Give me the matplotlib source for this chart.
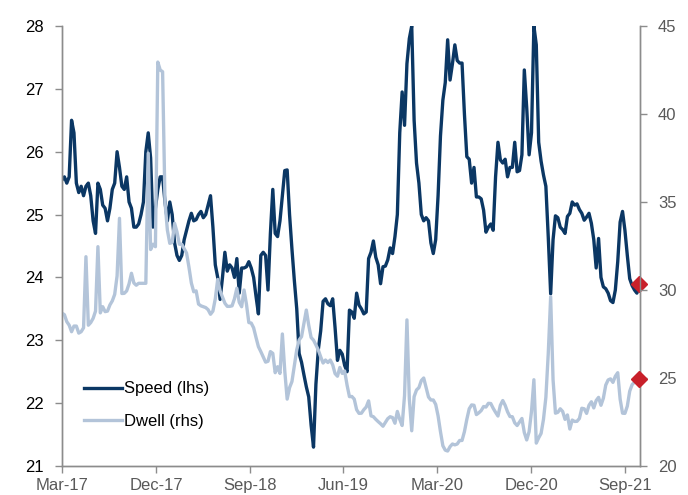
import matplotlib
matplotlib.use("Agg")
import matplotlib.pyplot as plt
import matplotlib.dates as mdates
import pandas as pd

plt.rcParams['font.family'] = ['Liberation Sans', 'DejaVu Sans']

# weekly readings, first week = Mar-17
start = "2017-03-01"

speed = [
    25.55, 25.6, 25.5, 25.6, 26.5, 26.3, 25.5, 25.35, 25.45, 25.3,
    25.45, 25.5, 25.3, 24.9, 24.7, 25.5, 25.4, 25.15, 25.1, 24.9,
    25.1, 25.4, 25.5, 26.0, 25.75, 25.45, 25.4, 25.6, 25.2, 25.1,
    24.8, 24.8, 24.85, 25.0, 25.2, 26.0, 26.3, 25.9, 24.8, 25.1,
    25.4, 25.6, 25.6, 25.2, 24.9, 25.2, 25.0, 24.55, 24.35, 24.27,
    24.35, 24.6, 24.75, 24.9, 25.02, 24.9, 24.92, 25.0, 25.05, 24.95,
    25.0, 25.15, 25.3, 24.8, 24.2, 24.0, 23.65, 24.0, 24.4, 24.1,
    24.2, 24.15, 24.0, 24.3, 23.75, 24.15, 24.15, 24.17, 24.25, 24.15,
    24.0, 23.7, 23.42, 24.35, 24.4, 24.35, 23.8, 24.7, 25.4, 24.7,
    24.65, 24.9, 25.3, 25.7, 25.71, 25.0, 24.45, 23.95, 23.5, 22.79,
    22.65, 22.45, 22.26, 22.1, 21.65, 21.3, 22.3, 22.85, 23.15, 23.62,
    23.66, 23.58, 23.55, 23.66, 23.2, 22.68, 22.84, 22.78, 22.6, 22.5,
    23.48, 23.45, 23.35, 23.75, 23.56, 23.5, 23.42, 23.45, 24.3, 24.4,
    24.58, 24.32, 24.2, 23.9, 24.17, 24.18, 24.28, 24.47, 24.38, 24.65,
    25.0, 26.3, 26.95, 26.42, 27.4, 27.8, 28.0, 26.5, 25.82, 25.5,
    25.0, 24.9, 24.95, 24.9, 24.55, 24.38, 24.6, 25.3, 26.25, 26.82,
    27.1, 27.78, 27.14, 27.4, 27.7, 27.45, 27.41, 27.41, 26.6, 25.92,
    25.88, 25.5, 25.75, 25.28, 25.28, 25.25, 25.07, 24.72, 24.8, 24.85,
    24.75, 25.6, 26.15, 25.87, 25.82, 25.88, 25.6, 25.75, 25.75, 26.15,
    25.68, 25.7, 25.95, 27.3, 26.7, 25.95, 26.3, 28.0, 27.7, 26.15,
    25.85, 25.63, 25.45, 24.64, 23.74, 24.6, 24.98, 24.95, 24.8, 24.76,
    24.7, 24.97, 25.02, 25.2, 25.15, 25.17, 25.08, 25.02, 24.91, 24.96,
    25.02, 24.86, 24.6, 24.15, 24.62, 24.0, 23.85, 23.82, 23.75, 23.63,
    23.6, 23.8, 24.25, 24.88, 25.05, 24.75, 24.35, 23.98, 23.87, 23.8,
    23.75, 23.89,
]

dwell = [
    28.68, 28.6, 28.2, 28.0, 27.63, 27.95, 27.95, 27.55, 27.63, 27.85,
    31.89, 28.0, 28.15, 28.39, 28.8, 32.46, 28.7, 29.05, 28.77, 28.8,
    29.15, 29.38, 29.75, 30.8, 34.07, 29.8, 29.81, 29.95, 30.35, 30.95,
    30.4, 30.27, 30.38, 30.38, 30.38, 30.38, 37.77, 32.3, 32.6, 32.46,
    42.95, 42.5, 42.4, 35.0, 33.4, 32.65, 32.7, 33.79, 33.3, 32.6,
    32.6, 32.35, 32.1, 31.3, 30.4, 29.9, 29.95, 29.2, 29.1, 29.05,
    29.0, 28.88, 28.62, 28.8, 29.5, 30.6, 29.95, 29.6, 29.25, 29.07,
    29.07, 29.1, 29.5, 30.1, 29.3, 29.05, 30.0, 29.2, 28.15, 28.12,
    27.85, 27.3, 26.78, 26.5, 26.2, 25.9, 25.95, 26.5, 26.4, 25.3,
    25.64, 25.26, 27.5, 25.4, 23.8, 24.45, 24.8, 25.7, 26.6, 27.16,
    27.35, 28.1, 28.86, 28.0, 27.3, 27.15, 26.88, 26.59, 26.2, 25.85,
    26.02, 25.88, 26.02, 25.75, 25.25, 25.1, 25.6, 25.26, 25.4, 24.6,
    23.94, 23.95, 23.8, 23.2, 22.99, 23.0, 23.2, 23.35, 23.7, 22.85,
    22.8, 22.65, 22.52, 22.4, 22.26, 22.47, 22.69, 22.8, 22.75, 22.43,
    23.1, 22.65, 22.3, 24.0, 28.3, 23.8, 22.0, 23.94, 24.32, 24.45,
    24.85, 25.0, 24.45, 23.92, 23.75, 23.75, 23.5, 22.85, 21.95, 21.15,
    20.9, 20.85, 21.1, 21.25, 21.2, 21.25, 21.45, 21.45, 21.95, 22.65,
    23.25, 23.47, 23.45, 22.92, 23.02, 23.15, 23.38, 23.35, 23.56, 23.55,
    23.28, 23.05, 22.84, 23.45, 23.72, 23.45, 23.08, 22.81, 22.8, 22.45,
    22.3, 22.5, 22.7, 21.9, 21.48, 21.95, 23.1, 24.9, 21.3, 21.6,
    21.85, 22.65, 23.9, 26.4, 29.62, 24.9, 23.0, 23.05, 23.25, 23.1,
    22.65, 22.9, 22.1, 22.61, 22.53, 22.54, 22.7, 23.28, 23.25, 22.99,
    23.45, 23.65, 23.3, 23.72, 23.9, 23.45, 23.85, 24.6, 24.89, 24.95,
    24.75, 25.1, 25.3, 23.8, 23.0, 22.99, 23.4, 24.25, 24.62, 24.77,
    24.89, 24.93,
]

tick_dates = ["2017-03-01", "2017-12-01", "2018-09-01", "2019-06-01",
              "2020-03-01", "2020-12-01", "2021-09-01"]

dark = "#0b3764"
light = "#b3c4d9"
red = "#c8202a"
grey = "#8c8c8c"

dates = pd.date_range(start, periods=len(speed), freq="7D")

fig = plt.figure(figsize=(6.88, 4.95), dpi=100)
ax = fig.add_axes([0.0901, 0.0586, 0.8401, 0.8889])
ax2 = ax.twinx()

l1, = ax.plot(dates, speed, color=dark, lw=2.4, label="Speed (lhs)",
              solid_joinstyle="round")
l2, = ax2.plot(dates, dwell, color=light, lw=2.4, label="Dwell (rhs)",
               solid_joinstyle="round")

ax.plot(dates[-1], speed[-1], marker="D", ms=8, color=red, clip_on=False,
        zorder=5)
ax2.plot(dates[-1], dwell[-1], marker="D", ms=8, color=red, clip_on=False,
         zorder=5)

ax.set_ylim(21, 28)
ax2.set_ylim(20, 45)
ax.set_yticks(range(21, 29))
ax2.set_yticks(range(20, 46, 5))
ax.set_xlim(pd.Timestamp("2017-03-01"), pd.Timestamp("2021-10-15"))
ax.set_xticks(pd.to_datetime(tick_dates))
ax.xaxis.set_major_formatter(mdates.DateFormatter("%b-%y"))

for a in (ax, ax2):
    a.spines["top"].set_visible(False)
    for s in ("left", "right", "bottom"):
        a.spines[s].set_color(grey)
        a.spines[s].set_linewidth(1.0)
    a.tick_params(direction="out", length=5, width=1.0, color=grey)

ax.tick_params(axis="y", labelsize=12, labelcolor="black", pad=8)
ax.tick_params(axis="x", labelsize=12, labelcolor="#595959", pad=4)
ax2.tick_params(axis="y", labelsize=12, labelcolor="#595959", pad=8)

ax.legend([l1, l2], ["Speed (lhs)", "Dwell (rhs)"], loc="lower left",
          bbox_to_anchor=(0.012, 0.05), frameon=False, fontsize=12,
          handlelength=2.3, handletextpad=0.1, labelspacing=1.05)

fig.savefig("out.png", dpi=100)
